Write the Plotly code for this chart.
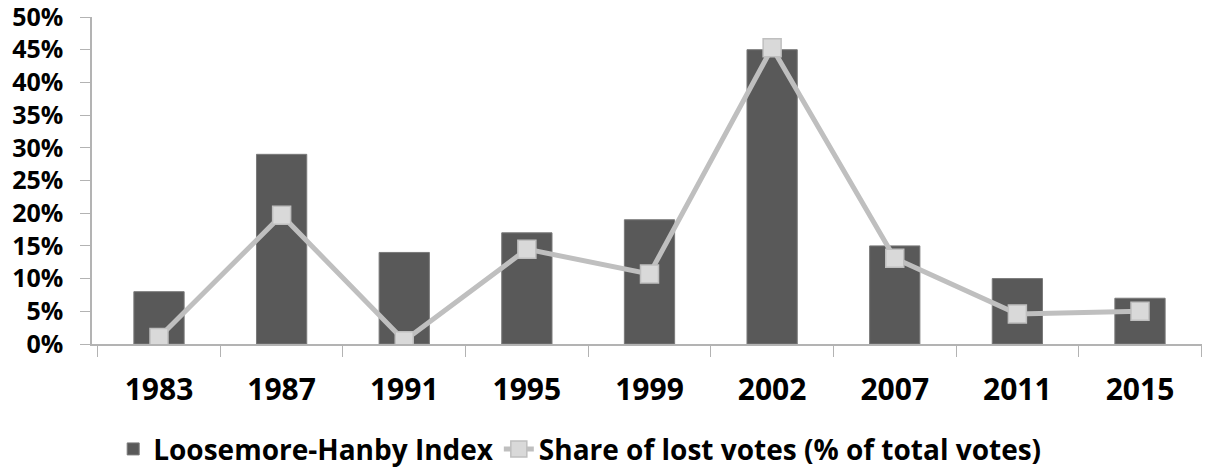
import plotly.graph_objects as go

years = ["1983", "1987", "1991", "1995", "1999", "2002", "2007", "2011", "2015"]
lh_index = [8, 29, 14, 17, 19, 45, 15, 10, 7]
lost_votes = [1.0, 19.7, 0.5, 14.5, 10.7, 45.3, 13.1, 4.6, 5.0]
y_ticks = list(range(0, 51, 5))
y_tick_labels = [f"{v}%" for v in y_ticks]

def bold(size):
    return dict(family="Open Sans", size=size, color="black", weight="bold")

fig = go.Figure()
fig.add_trace(go.Bar(
    x=years,
    y=lh_index,
    name="Loosemore-Hanby Index",
    marker=dict(color="#595959", line=dict(color="#7a7a7a", width=1)),
    width=0.41,
))
fig.add_trace(go.Scatter(
    x=years,
    y=lost_votes,
    name="Share of lost votes (% of total votes)",
    mode="lines+markers",
    line=dict(color="#bfbfbf", width=5),
    marker=dict(symbol="square", size=18, color="#d9d9d9",
                line=dict(color="#bfbfbf", width=1.5)),
))

# page body adds an 8px offset, so the figure is sized to fit the window
fig.update_layout(
    width=1202,
    height=462,
    margin=dict(l=84, r=3, t=9, b=126),
    plot_bgcolor="white",
    paper_bgcolor="white",
    font=bold(28),
    showlegend=True,
    legend=dict(
        orientation="h",
        x=0.019, xanchor="left",
        yref="container", y=0.045, yanchor="middle",
        font=bold(28),
        itemwidth=30,
        tracegroupgap=0,
    ),
    bargap=0.59,
)
fig.update_xaxes(
    type="category",
    showline=True, linecolor="#b3b3b3", linewidth=1.5,
    ticks="outside", tickson="boundaries", ticklen=11, tickcolor="#b3b3b3",
    tickfont=bold(30), ticklabelstandoff=18,
    showgrid=False, automargin=False, ticklabeloverflow="allow",
)
fig.update_yaxes(
    range=[0, 50],
    tickvals=y_ticks,
    ticktext=y_tick_labels,
    showline=True, linecolor="#b3b3b3", linewidth=1.5,
    ticks="outside", ticklen=10, tickcolor="#b3b3b3",
    tickfont=bold(25), ticklabelstandoff=12,
    showgrid=False, zeroline=False, automargin=False, ticklabeloverflow="allow",
)

fig.write_html("out.html")
